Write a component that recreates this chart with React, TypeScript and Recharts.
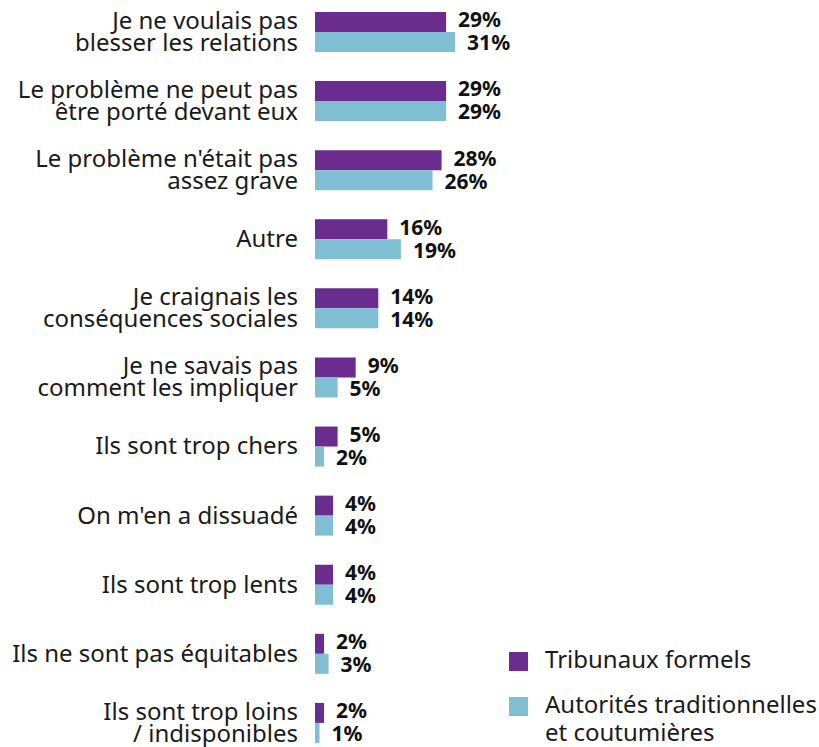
import React from 'react';
import { BarChart, Bar, XAxis, YAxis, LabelList } from 'recharts';

const categories = [
  'Je ne voulais pas\nblesser les relations',
  'Le problème ne peut pas\nêtre porté devant eux',
  "Le problème n'était pas\nassez grave",
  'Autre',
  'Je craignais les\nconséquences sociales',
  'Je ne savais pas\ncomment les impliquer',
  'Ils sont trop chers',
  "On m'en a dissuadé",
  'Ils sont trop lents',
  'Ils ne sont pas équitables',
  'Ils sont trop loins\n/ indisponibles',
];

const tribunaux = [29, 29, 28, 16, 14, 9, 5, 4, 4, 2, 2];
const autorites = [31, 29, 26, 19, 14, 5, 2, 4, 4, 3, 1];

const seriesNames = ['Tribunaux formels', 'Autorités traditionnelles\net coutumières'];
const PURPLE = '#6a2c8f';
const TEAL = '#80bed3';
const FONT = '"Noto Sans", "Open Sans", sans-serif';

const data = categories.map((c, i) => ({
  name: c,
  tribunaux: tribunaux[i],
  autorites: autorites[i],
}));

const CategoryTick = ({ x, y, payload }: any) => {
  const lines = String(payload.value).split('\n');
  const lh = 22;
  const start = -((lines.length - 1) * lh) / 2;
  return (
    <text x={x} y={y} textAnchor="end" fill="#1a1a1a" fontSize={24} fontFamily={FONT}>
      {lines.map((l, i) => (
        <tspan key={i} x={x} y={y + start + i * lh} dy="0.35em">{l}</tspan>
      ))}
    </text>
  );
};

const valueLabel = (shift: number) => (props: any) => {
  const { x, y, width, height, value } = props;
  return (
    <text
      x={x + width + 12}
      y={y + height / 2 + shift}
      dy="0.35em"
      fontSize={21}
      fontWeight={700}
      fontFamily={FONT}
      fill="#111"
    >
      {`${value}%`}
    </text>
  );
};

const LegendBox = () => (
  <div style={{ position: 'absolute', left: 509, top: 651, fontFamily: FONT, fontSize: 24, color: '#1a1a1a' }}>
    {seriesNames.map((n, i) => (
      <div key={i} style={{ display: 'flex', alignItems: 'flex-start', marginBottom: 20 }}>
        <div style={{ width: 19, height: 19, background: i === 0 ? PURPLE : TEAL, marginTop: 4, marginRight: 17, flexShrink: 0 }} />
        <div style={{ lineHeight: '28px', whiteSpace: 'pre', marginTop: -3 }}>{n}</div>
      </div>
    ))}
  </div>
);

export default function App() {
  return (
    <div style={{ position: 'absolute', left: 0, top: -3, width: 819, height: 760 }}>
      <BarChart
        width={819}
        height={760}
        data={data}
        layout="vertical"
        margin={{ top: 0, right: 52, bottom: 0, left: 0 }}
        barGap={0}
        barSize={20}
      >
        <XAxis type="number" domain={[0, 100]} hide />
        <YAxis
          type="category"
          dataKey="name"
          width={315}
          axisLine={false}
          tickLine={false}
          tickMargin={11}
          interval={0}
          tick={<CategoryTick />}
        />
        <Bar dataKey="tribunaux" fill={PURPLE} isAnimationActive={false}>
          <LabelList dataKey="tribunaux" content={valueLabel(-2)} />
        </Bar>
        <Bar dataKey="autorites" fill={TEAL} isAnimationActive={false}>
          <LabelList dataKey="autorites" content={valueLabel(1)} />
        </Bar>
      </BarChart>
      <LegendBox />
    </div>
  );
}
